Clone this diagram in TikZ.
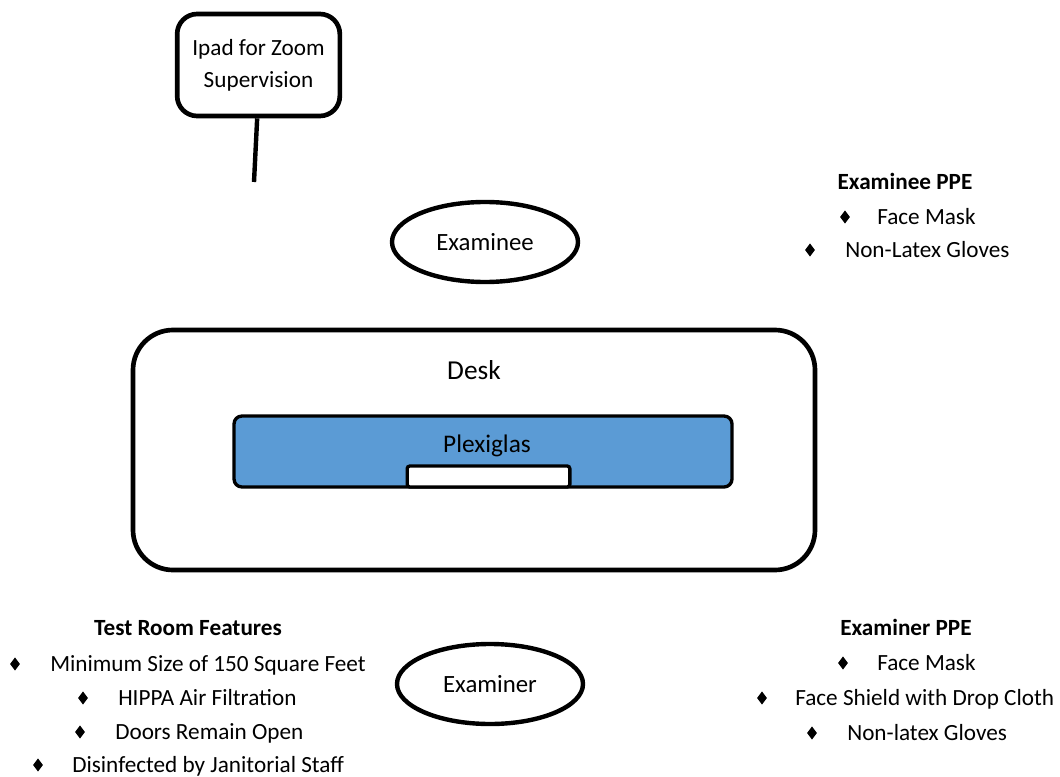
\documentclass[tikz,border=0pt]{standalone}
\usepackage{fontspec}
\setmainfont{Carlito}
\usepackage{tikz}
\usetikzlibrary{shapes.geometric}
\definecolor{glass}{RGB}{91,155,213}

\tikzset{
	txt/.style={inner sep=0pt, text height=11.2pt, text depth=0pt, font=\fontsize{17.4}{24}\selectfont},
	item/.style={txt, anchor=west},
	head/.style={txt, font=\fontsize{17.4}{24}\selectfont\bfseries},
	bul/.style={diamond, fill=black, inner sep=0pt, minimum width=7.5pt, minimum height=10pt},
	person/.style={ellipse, draw, line width=3.3pt, minimum width=139.5pt, minimum height=60pt, inner sep=0pt, font=\fontsize{18.6}{24}\selectfont}
}

\begin{document}
\begin{tikzpicture}[x=0.75pt, y=-0.75pt]
		\useasboundingbox (0,0) rectangle (1060,777);
		% ipad on its stand
		\node[draw, line width=3.5pt, rounded corners=15pt, minimum width=122pt, minimum height=76.5pt, align=center, font=\fontsize{17.4}{24}\selectfont] (ipad) at (258.5,65) {Ipad for Zoom\\Supervision};
		\coordinate (stand) at (254,182);
		\draw[line width=3.3pt] ([xshift=-1pt]ipad.south) -- (stand);
		\node[person] (examinee) at (485,242) {Examinee};
		\node[person] (examiner) at (490,684) {Examiner};
		% desk with the plexiglas screen
		\node[draw, line width=3.5pt, rounded corners=30pt, minimum width=511.5pt, minimum height=180pt] (desk) at (474,450) {};
		\node[txt, font=\fontsize{20.5}{24}\selectfont] (desklabel) at (474,372) {Desk};
		\node[draw, fill=glass, line width=2.5pt, rounded corners=6pt, minimum width=373.5pt, minimum height=53.25pt] (glass) at (483,451.5) {};
		\node[draw, fill=white, line width=2.5pt, rounded corners=2pt, minimum width=122pt, minimum height=15.75pt] (slot) at (488.5,476.5) {};
		\node[txt, font=\fontsize{19}{24}\selectfont] (glasslabel) at (487,445) {Plexiglas};
		% examinee PPE
		\node[head] (eePPE) at (905,182) {Examinee PPE};
		\node[bul] (ee1) at (845,217) {};
		\node[item] (eeMask) at (877,217) {Face Mask};
		\node[bul] (ee2) at (810,250) {};
		\node[item] (eeGloves) at (845,250) {Non-Latex Gloves};
		% room
		\node[head] (room) at (188,628) {Test Room Features};
		\node[bul] (r1) at (15,664) {};
		\node[item] (rSize) at (50,664) {Minimum Size of 150 Square Feet};
		\node[bul] (r2) at (83,698) {};
		\node[item] (rAir) at (118,698) {HIPPA Air Filtration};
		\node[bul] (r3) at (80,732) {};
		\node[item] (rDoors) at (115,732) {Doors Remain Open};
		\node[bul] (r4) at (38,765) {};
		\node[item] (rClean) at (72,765) {Disinfected by Janitorial Staff};
		% examiner PPE
		\node[head] (erPPE) at (906,628) {Examiner PPE};
		\node[bul] (er1) at (843,663) {};
		\node[item] (erMask) at (877,663) {Face Mask};
		\node[bul] (er2) at (762,698) {};
		\node[item] (erShield) at (795,698) {Face Shield with Drop Cloth};
		\node[bul] (er3) at (812,733) {};
		\node[item] (erGloves) at (847,733) {Non-latex Gloves};
	\end{tikzpicture}
\end{document}
